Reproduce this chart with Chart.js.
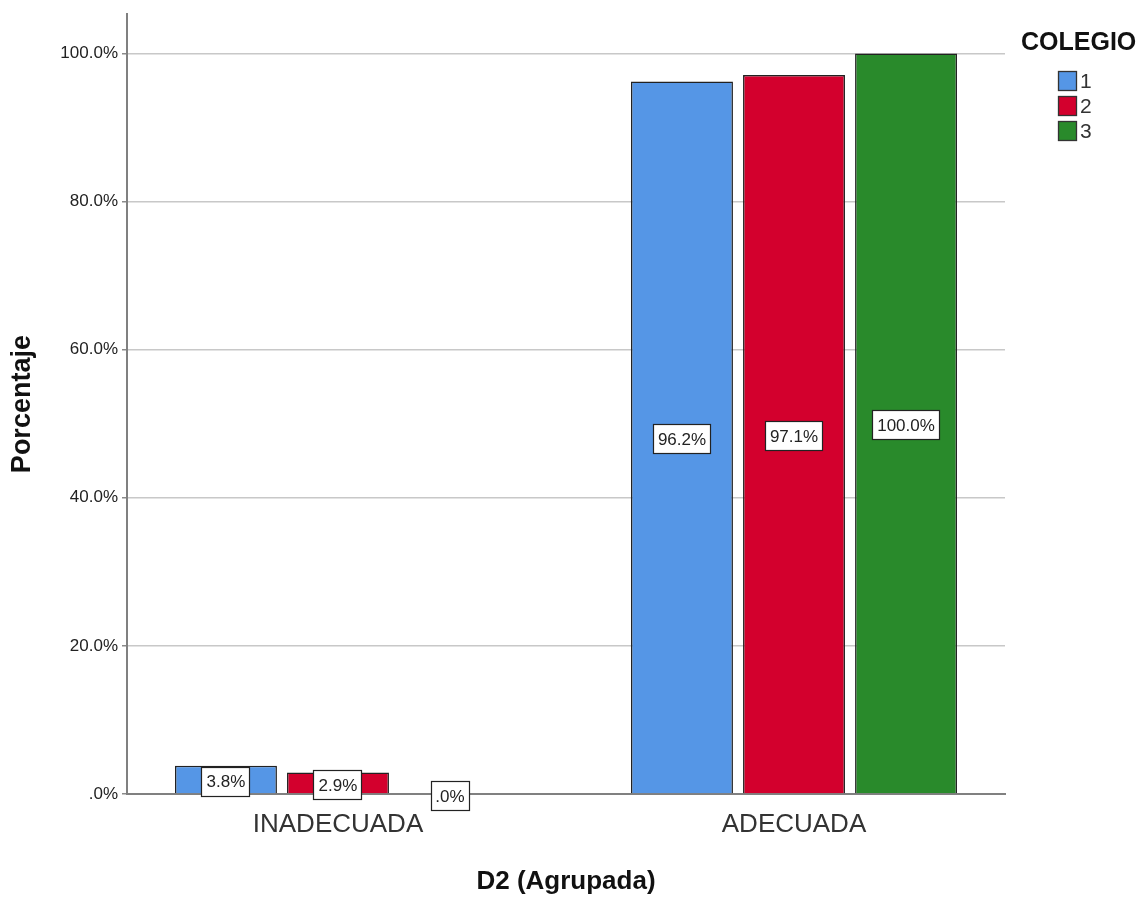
<!DOCTYPE html>
<html>
<head>
<meta charset="utf-8">
<title>D2 (Agrupada) por COLEGIO</title>
<script src="https://cdn.jsdelivr.net/npm/chart.js@4.4.1/dist/chart.umd.min.js"></script>
<style>
  html, body { margin: 0; padding: 0; background: #fff; }
  canvas { display: block; }
</style>
</head>
<body>
<canvas id="chart" width="1139" height="897"></canvas>
<script>
// Categories of the grouped variable and one value list per school (percent)
const categories = ['INADECUADA', 'ADECUADA'];
const seriesNames = ['1', '2', '3'];
const colegio1 = [3.8, 96.2];
const colegio2 = [2.9, 97.1];
const colegio3 = [0.0, 100.0];
const yTicks = [0, 20, 40, 60, 80, 100];
const legendTitle = 'COLEGIO';
const xTitle = 'D2 (Agrupada)';
const yTitle = 'Porcentaje';

const seriesValues = [colegio1, colegio2, colegio3];
const seriesColors = ['#5596E6', '#D3002D', '#298A2B'];
const FONT = '"Liberation Sans", Arial, sans-serif';

// SPSS style percent: 0 -> ".0%", 3.8 -> "3.8%"
function fmtPct(v) {
  return v.toFixed(1).replace(/^0(?=\.)/, '') + '%';
}

// White boxed value labels centred on each bar
const valueLabels = {
  id: 'valueLabels',
  afterDatasetsDraw(chart) {
    const ctx = chart.ctx;
    ctx.save();
    ctx.font = '17px ' + FONT;
    ctx.textAlign = 'center';
    ctx.textBaseline = 'middle';
    chart.data.datasets.forEach((ds, di) => {
      const meta = chart.getDatasetMeta(di);
      meta.data.forEach((bar, j) => {
        const text = fmtPct(ds.data[j].y);
        const w = Math.round(ctx.measureText(text).width + 10);
        const h = 30;
        const cx = bar.x;
        const cy = (bar.y + bar.base) / 2 + 2;
        const x0 = Math.round(cx - w / 2), y0 = Math.round(cy - h / 2);
        ctx.fillStyle = '#fff';
        ctx.fillRect(x0, y0, w, h);
        ctx.strokeStyle = '#222';
        ctx.lineWidth = 1.2;
        ctx.strokeRect(x0 + 0.5, y0 + 0.5, w - 1, h - 1);
        ctx.fillStyle = '#222';
        ctx.fillText(text, cx, cy + 1);
      });
    });
    ctx.restore();
  }
};

// Legend block to the right of the plot: title plus colour swatches
const colegioLegend = {
  id: 'colegioLegend',
  afterDraw(chart) {
    const ctx = chart.ctx;
    const left = chart.chartArea.right + 16;
    ctx.save();
    ctx.textBaseline = 'middle';
    ctx.textAlign = 'left';
    ctx.font = 'bold 25px ' + FONT;
    ctx.fillStyle = '#111';
    ctx.fillText(legendTitle, left, 43);
    chart.data.datasets.forEach((ds, i) => {
      const cy = 81 + i * 25;
      const sx = left + 37;
      ctx.fillStyle = ds.backgroundColor;
      ctx.fillRect(sx, cy - 10, 19, 20);
      ctx.strokeStyle = '#333';
      ctx.lineWidth = 1.3;
      ctx.strokeRect(sx + 0.5, cy - 9.5, 18, 19);
      ctx.font = '21px ' + FONT;
      ctx.fillStyle = '#333';
      ctx.fillText(ds.label, sx + 22, cy + 1);
    });
    ctx.restore();
  }
};

const datasets = seriesNames.map((name, s) => ({
  label: name,
  data: categories.map((c, i) => ({ x: i, y: seriesValues[s][i] })),
  backgroundColor: seriesColors[s],
  borderColor: '#222',
  borderWidth: 1.5,
  categoryPercentage: 0.737,
  barPercentage: 0.91
}));

new Chart(document.getElementById('chart'), {
  type: 'bar',
  data: { datasets },
  plugins: [valueLabels, colegioLegend],
  options: {
    responsive: false,
    animation: false,
    layout: { padding: { left: 0, right: 134, top: 13, bottom: 0 } },
    plugins: {
      legend: { display: false },
      tooltip: { enabled: false }
    },
    scales: {
      x: {
        type: 'linear',
        offset: false,
        min: -0.4627,
        max: 1.4627,
        afterBuildTicks(scale) {
          scale.ticks = categories.map((c, i) => ({ value: i }));
        },
        afterFit(scale) { scale.height = 103; },
        grid: { display: false, drawTicks: false },
        border: { display: true, color: '#808080', width: 2 },
        ticks: {
          autoSkip: false,
          maxRotation: 0,
          padding: 15,
          color: '#333',
          font: { family: FONT, size: 26 },
          callback: (v) => categories[v] !== undefined ? categories[v] : ''
        },
        title: {
          display: true,
          text: xTitle,
          color: '#111',
          font: { family: FONT, size: 26, weight: 'bold' },
          padding: { top: 0, bottom: 0 }
        }
      },
      y: {
        min: 0,
        max: 105.3,
        afterBuildTicks(scale) {
          scale.ticks = yTicks.map(v => ({ value: v }));
        },
        afterFit(scale) { scale.width = 127; },
        grid: { color: '#c8c8c8', lineWidth: 1.5, drawTicks: true, tickLength: 5, tickColor: '#8a8a8a' },
        border: { display: true, color: '#808080', width: 2 },
        ticks: {
          padding: 4,
          color: '#222',
          font: { family: FONT, size: 17 },
          callback: (v) => fmtPct(v)
        },
        title: {
          display: true,
          text: yTitle,
          color: '#111',
          font: { family: FONT, size: 27, weight: 'bold' },
          padding: { top: 6, bottom: 0 }
        }
      }
    }
  }
});
</script>
</body>
</html>
